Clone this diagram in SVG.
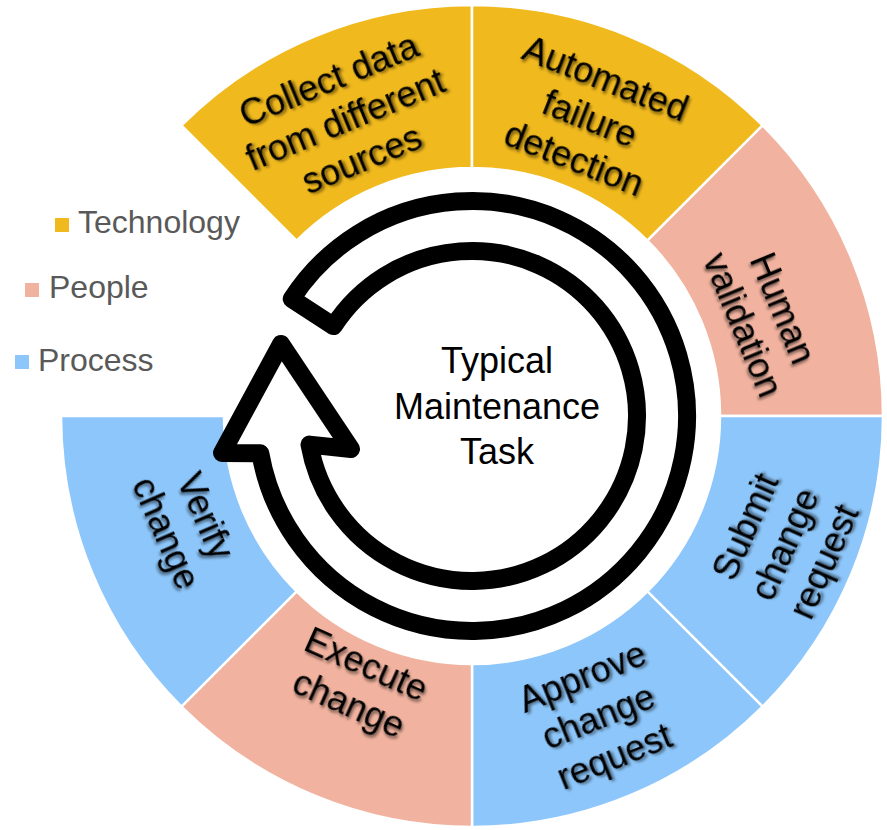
<svg xmlns="http://www.w3.org/2000/svg" width="887" height="830" viewBox="0 0 887 830">
<defs>
<filter id="shadow" x="-20%" y="-20%" width="140%" height="140%">
<feGaussianBlur in="SourceAlpha" stdDeviation="1.6" result="b"/>
<feOffset in="b" dx="1.5" dy="1.5" result="o"/>
<feComponentTransfer in="o" result="s"><feFuncA type="linear" slope="0.55"/></feComponentTransfer>
<feMerge><feMergeNode in="s"/><feMergeNode in="SourceGraphic"/></feMerge>
</filter>
</defs>
<style>
.seg{stroke:#ffffff;stroke-width:2.5}
.tech{fill:#F0B91D}
.people{fill:#F1B39F}
.process{fill:#8DC6FA}
.lbl{font-family:"Liberation Sans",Arial,sans-serif;font-size:36px;fill:#000;text-anchor:middle;filter:url(#shadow)}
.center{font-family:"Liberation Sans",Arial,sans-serif;font-size:36px;fill:#000;text-anchor:middle}
.legend{font-family:"Liberation Sans",Arial,sans-serif;font-size:32px;fill:#595959}
.arrow{fill:#fff;stroke:#000;stroke-width:18;stroke-linejoin:round}
</style>
<rect width="887" height="830" fill="#fff"/>

<g id="seg-collect">
<path class="seg tech" d="M181.4,125.4 A411,411 0 0 1 472,5 L472,168 A248,248 0 0 0 296.6,240.6 Z"/>
<text class="lbl" transform="translate(345,119) rotate(-22.5)"><tspan x="0" y="-30">Collect data</tspan><tspan x="0" y="13">from different</tspan><tspan x="0" y="56">sources</tspan></text>
</g>
<g id="seg-automated">
<path class="seg tech" d="M472,5 A411,411 0 0 1 762.6,125.4 L647.4,240.6 A248,248 0 0 0 472,168 Z"/>
<text class="lbl" transform="translate(590,118) rotate(21.5)"><tspan x="0" y="-30">Automated</tspan><tspan x="0" y="13">failure</tspan><tspan x="0" y="56">detection</tspan></text>
</g>
<g id="seg-human">
<path class="seg people" d="M762.6,125.4 A411,411 0 0 1 883,416 L720,416 A248,248 0 0 0 647.4,240.6 Z"/>
<text class="lbl" transform="translate(764,316) rotate(67.5)"><tspan x="0" y="-8">Human</tspan><tspan x="0" y="35">validation</tspan></text>
</g>
<g id="seg-submit">
<path class="seg process" d="M883,416 A411,411 0 0 1 762.6,706.6 L647.4,591.4 A248,248 0 0 0 720,416 Z"/>
<text class="lbl" transform="translate(784,544) rotate(-66)"><tspan x="0" y="-30">Submit</tspan><tspan x="0" y="13">change</tspan><tspan x="0" y="56">request</tspan></text>
</g>
<g id="seg-approve">
<path class="seg process" d="M762.6,706.6 A411,411 0 0 1 472,827 L472,664 A248,248 0 0 0 647.4,591.4 Z"/>
<text class="lbl" transform="translate(598,716) rotate(-22)"><tspan x="0" y="-30">Approve</tspan><tspan x="0" y="13">change</tspan><tspan x="0" y="56">request</tspan></text>
</g>
<g id="seg-execute">
<path class="seg people" d="M472,827 A411,411 0 0 1 181.4,706.6 L296.6,591.4 A248,248 0 0 0 472,664 Z"/>
<text class="lbl" transform="translate(358,683) rotate(24)"><tspan x="0" y="-8">Execute</tspan><tspan x="0" y="35">change</tspan></text>
</g>
<g id="seg-verify">
<path class="seg process" d="M181.4,706.6 A411,411 0 0 1 61,416 L224,416 A248,248 0 0 0 296.6,591.4 Z"/>
<text class="lbl" transform="translate(187,524) rotate(66.5)"><tspan x="0" y="-8">Verify</tspan><tspan x="0" y="35">change</tspan></text>
</g>

<g id="connectors">
<path class="arrow" d="M291.7,298.9 A215,215 0 1 1 260.3,453.3 L222,453 L281,344 L351,449 L309.5,444.6 A165,165 0 1 0 333.6,326.1 Z"/>
</g>

<g id="center-label">
<text class="center"><tspan x="497" y="373">Typical</tspan><tspan x="497" y="419">Maintenance</tspan><tspan x="497" y="464">Task</tspan></text>
</g>

<g id="legend">
<g id="legend-technology"><rect class="tech" x="55" y="218" width="14" height="14"/><text class="legend" x="78" y="233">Technology</text></g>
<g id="legend-people"><rect class="people" x="25" y="283" width="14" height="14"/><text class="legend" x="49" y="298">People</text></g>
<g id="legend-process"><rect class="process" x="15" y="355" width="14" height="14"/><text class="legend" x="38" y="371">Process</text></g>
</g>
</svg>
